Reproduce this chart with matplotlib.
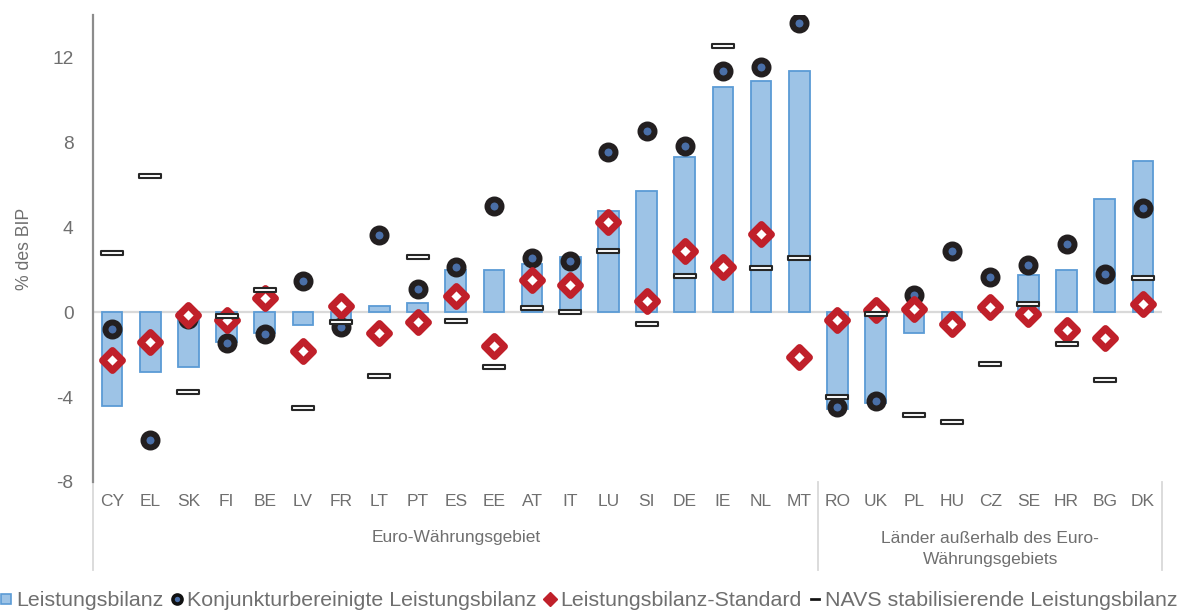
import matplotlib
matplotlib.use("Agg")
import matplotlib.pyplot as plt
from matplotlib.path import Path
from matplotlib.lines import Line2D
from matplotlib.markers import MarkerStyle
import matplotlib.transforms as mtransforms
import numpy as np

plt.rcParams['font.family'] = ['Liberation Sans', 'DejaVu Sans']

countries = ["CY", "EL", "SK", "FI", "BE", "LV", "FR", "LT", "PT", "ES", "EE", "AT", "IT", "LU",
             "SI", "DE", "IE", "NL", "MT", "RO", "UK", "PL", "HU", "CZ", "SE", "HR", "BG", "DK"]
leistungsbilanz = [-4.4, -2.8, -2.6, -1.4, -1.0, -0.6, -0.5, 0.3, 0.45, 2.0, 2.0, 2.25, 2.6, 4.75,
                   5.7, 7.3, 10.6, 10.9, 11.35, -4.55, -4.3, -1.0, -0.45, 0.0, 1.75, 2.0, 5.35, 7.1]
konjunktur = [-0.8, -6.0, -0.3, -1.45, -1.05, 1.45, -0.7, 3.65, 1.1, 2.15, 5.0, 2.55, 2.4, 7.55,
              8.55, 7.85, 11.35, 11.55, 13.6, -4.45, -4.2, 0.8, 2.9, 1.65, 2.2, 3.2, 1.8, 4.9]
standard = [-2.25, -1.4, -0.15, -0.35, 0.65, -1.85, 0.3, -1.0, -0.45, 0.75, -1.6, 1.5, 1.3, 4.25,
            0.55, 2.9, 2.15, 3.7, -2.1, -0.35, 0.1, 0.15, -0.55, 0.25, -0.1, -0.85, -1.2, 0.4]
navs = [2.8, 6.4, -3.75, -0.2, 1.05, -4.5, -0.45, -3.0, 2.6, -0.4, -2.6, 0.2, 0.0, 2.9,
        -0.55, 1.7, 12.55, 2.1, 2.55, -4.0, -0.1, -4.85, -5.15, -2.45, 0.4, -1.5, -3.2, 1.6]
groups = ["Euro-Währungsgebiet", "Länder außerhalb des Euro-\nWährungsgebiets"]
group_sizes = [19, 9]
yticks = [-8, -4, 0, 4, 8, 12]

gray_txt = '#6f6f6f'
bar_face = '#9dc3e6'
bar_edge = '#5b9bd5'
red = '#c0202a'
dark = '#231f20'
blue_dot = '#4a6fa8'

fig = plt.figure(figsize=(11.79, 6.10), dpi=100)
ax = fig.add_axes([93/1179, 1-482/610, (1162-93)/1179, (482-15)/610])

x = np.arange(len(countries))
ax.bar(x, leistungsbilanz, width=0.54, color=bar_face, edgecolor=bar_edge, linewidth=1.3, zorder=2)
ax.axhline(0, color='#d9d9d9', linewidth=1.6, zorder=1.5)

ax.plot(x, konjunktur, linestyle='none', marker='o', ms=10.1, mfc=blue_dot, mec=dark, mew=4.3, zorder=3)
ax.plot(x, standard, linestyle='none', marker=MarkerStyle('D', joinstyle='round'), ms=10.3,
        mfc='white', mec=red, mew=5.0, zorder=4)

rect = Path([(-1, -0.2), (1, -0.2), (1, 0.2), (-1, 0.2), (-1, -0.2)],
            [Path.MOVETO, Path.LINETO, Path.LINETO, Path.LINETO, Path.CLOSEPOLY])
ax.plot(x, navs, linestyle='none', marker=rect, ms=16.0, mfc='white', mec='#262626', mew=1.5, zorder=5)

ax.set_xlim(-0.5, len(countries) - 0.5)
ax.set_ylim(-8, 14)
ax.set_yticks(yticks)
ax.set_yticklabels([str(v) for v in yticks])
ax.set_xticks(x)
ax.set_xticklabels(countries)
ax.tick_params(axis='y', length=0, pad=14, labelsize=13.8, labelcolor=gray_txt)
ax.tick_params(axis='x', length=0, pad=9, labelsize=12.5, labelcolor=gray_txt)
for s in ['top', 'right', 'bottom']:
    ax.spines[s].set_visible(False)
ax.spines['left'].set_color('#8c8c8c')
ax.spines['left'].set_linewidth(1.6)
ax.set_ylabel('% des BIP', fontsize=12.7, color=gray_txt, labelpad=14)

# group labels and separators
trans = mtransforms.blended_transform_factory(ax.transData, ax.transAxes)
start = -0.5
bounds = [start]
for g, n in zip(groups, group_sizes):
    end = start + n
    cx = (start + end) / 2
    if '\n' in g:
        ax.text(cx, -0.1435, g, transform=trans, ha='center', va='center', fontsize=12.5,
                color=gray_txt, linespacing=1.45)
    else:
        ax.text(cx, -0.1178, g, transform=trans, ha='center', va='center', fontsize=12.5,
                color=gray_txt)
    start = end
    bounds.append(end)
for b in bounds:
    ax.plot([b, b], [0, -88/467], transform=trans, color='#d9d9d9', linewidth=1.3, clip_on=False)

# legend
dash_leg = Path([(-1, -0.3), (1, -0.3), (1, 0.3), (-1, 0.3), (-1, -0.3)],
                [Path.MOVETO, Path.LINETO, Path.LINETO, Path.LINETO, Path.CLOSEPOLY])
handles = [
    Line2D([], [], linestyle='none', marker='s', ms=7, mfc=bar_face, mec=bar_edge, mew=1.2),
    Line2D([], [], linestyle='none', marker='o', ms=6.5, mfc=blue_dot, mec='#111111', mew=2.6),
    Line2D([], [], linestyle='none', marker='D', ms=7.5, mfc=red, mec=red, mew=1.0),
    Line2D([], [], linestyle='none', marker=dash_leg, ms=7, mfc='#111111', mec='#111111', mew=0.5),
]
labels = ["Leistungsbilanz", "Konjunkturbereinigte Leistungsbilanz", "Leistungsbilanz-Standard",
          "NAVS stabilisierende Leistungsbilanz"]
leg = fig.legend(handles, labels, loc='center left', bbox_to_anchor=(0.0, 1-601/610), ncol=4,
                 frameon=False, fontsize=15.4, handlelength=0.55, handletextpad=0.2,
                 columnspacing=0.35, borderpad=0, borderaxespad=0)
for t in leg.get_texts():
    t.set_color(gray_txt)

fig.savefig('out.png', dpi=100)
